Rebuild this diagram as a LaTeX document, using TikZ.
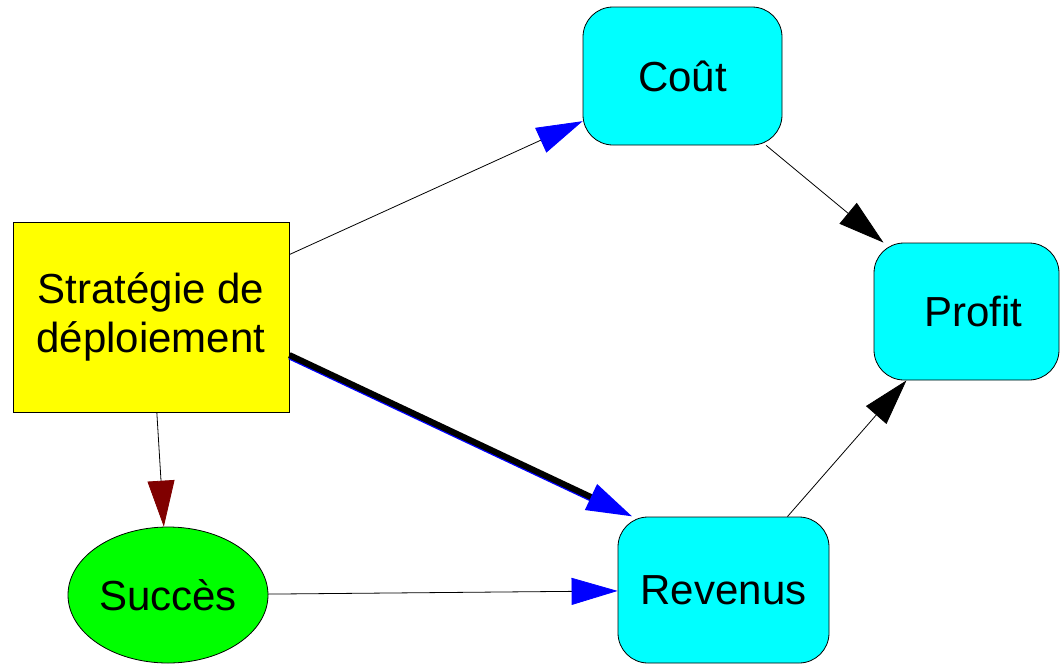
\documentclass[tikz,border=0pt]{standalone}
\usepackage{fontspec}
\setmainfont{Liberation Sans}
\usetikzlibrary{arrows.meta,shapes.geometric}
\definecolor{aqua}{RGB}{0,255,255}
\definecolor{lemon}{RGB}{255,255,0}
\definecolor{leaf}{RGB}{0,255,0}
\definecolor{maroonhead}{RGB}{128,0,0}
\begin{document}
\begin{tikzpicture}[x=1pt,y=-1pt,
  lbl/.style={font=\fontsize{42}{49}\selectfont, align=center, inner sep=0pt},
  roundbox/.style={lbl, draw=black, line width=0.8pt, fill=aqua, rectangle,
    rounded corners=30pt},
  squarebox/.style={lbl, draw=black, line width=0.8pt, fill=lemon, rectangle},
  ovalbox/.style={lbl, draw=black, line width=0.8pt, fill=leaf, ellipse},
  link/.style={draw=black, line width=0.8pt},
  bluehead/.style={-{Triangle[length=46pt,width=27pt,color=blue]}},
  blackhead/.style={-{Triangle[length=46pt,width=27pt,color=black]}},
  redhead/.style={-{Triangle[length=46pt,width=27pt,color=maroonhead]}},
]
\useasboundingbox (0,0) rectangle (1060,664);
\fill[white] (0,0) rectangle (1060,664);

% nodes
\node[squarebox, minimum width=276pt, minimum height=190pt] (strat) at (151,317)
  {Stratégie de\\déploiement};
\node[roundbox, minimum width=199pt, minimum height=138pt] (cout) at (682.5,76) {Coût};
\node[roundbox, minimum width=185pt, minimum height=137pt] (profit) at (966.5,311.5)
  {\hspace*{14pt}Profit};
\node[roundbox, minimum width=211pt, minimum height=146pt] (rev) at (723.5,590) {Revenus};
\node[ovalbox, minimum width=200pt, minimum height=136pt] (succ) at (168,595) {Succès};

% connectors
\draw[link, bluehead] (strat) -- (cout);
\draw[link, blackhead] (cout) -- (profit);
\draw[link, blackhead] (rev) -- (profit);
\draw[link, redhead] (strat) -- (succ);
\draw[link, bluehead] (succ) -- (rev);

% heavy connector with a blue edge beneath it
\draw[blue, line width=5pt, shorten >=30pt]
  ([yshift=-40pt]strat.east) -- ([xshift=15pt,yshift=-2pt]rev.north west);
\draw[black, line width=6pt, bluehead]
  ([yshift=-38pt]strat.east) -- ([xshift=15pt]rev.north west);
\end{tikzpicture}
\end{document}
